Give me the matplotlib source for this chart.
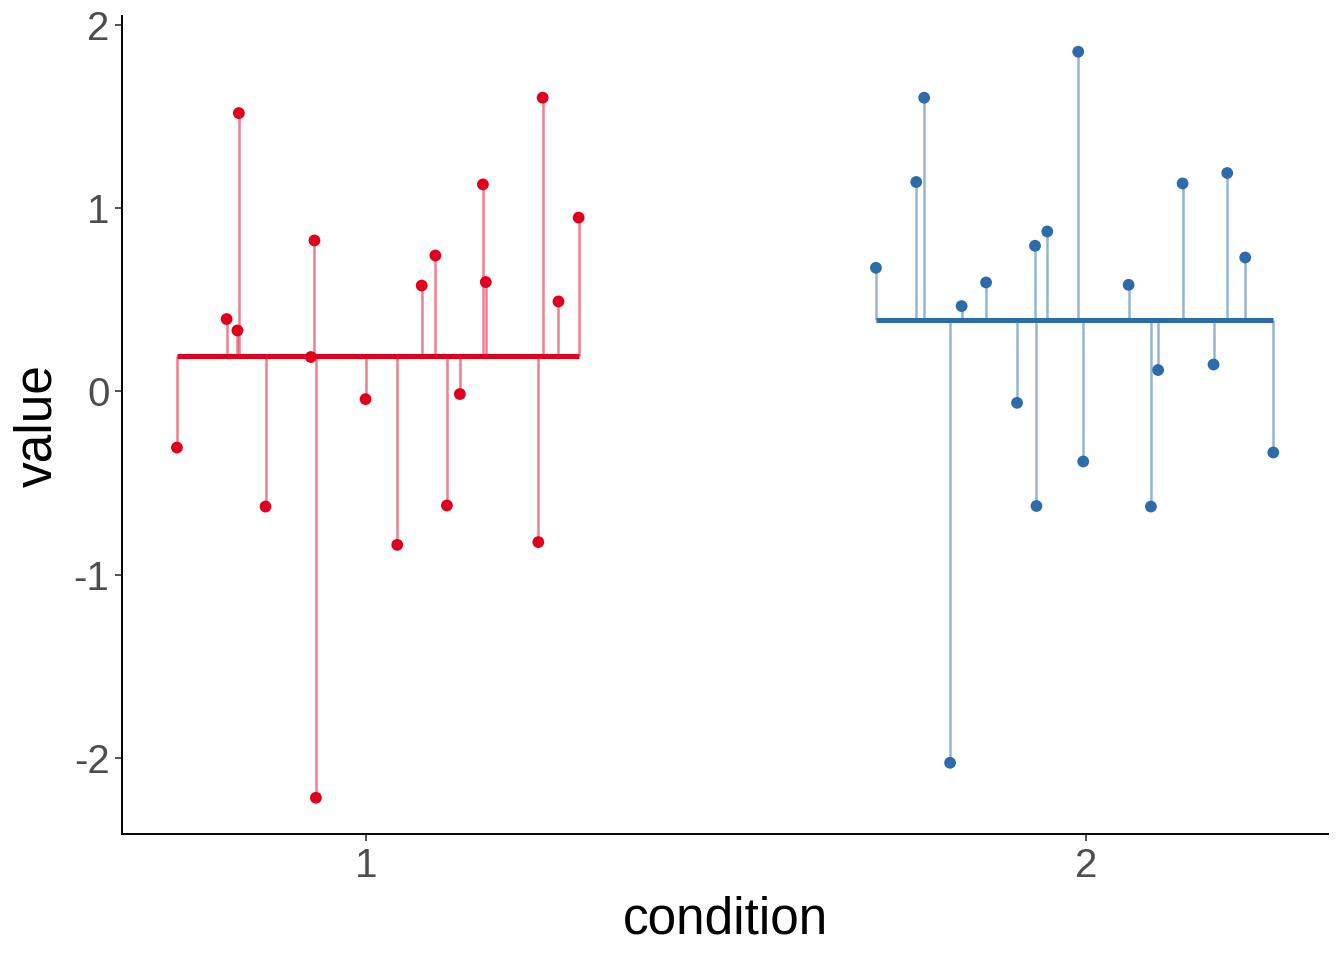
import numpy as np
import matplotlib.pyplot as plt

plt.rcParams["font.family"] = ["Liberation Sans", "DejaVu Sans"]

# jittered positions and values
cond1_x = [0.737, 0.806, 0.821, 0.823, 0.860, 0.923, 0.928, 0.930, 0.999, 1.043,
           1.077, 1.096, 1.112, 1.130, 1.162, 1.166, 1.239, 1.245, 1.267, 1.295]
cond1_y = [-0.307, 0.394, 0.332, 1.518, -0.629, 0.187, 0.823, -2.218, -0.043, -0.838,
           0.577, 0.741, -0.623, -0.015, 1.129, 0.596, -0.823, 1.602, 0.490, 0.948]

cond2_x = [1.708, 1.764, 1.775, 1.811, 1.827, 1.861, 1.904, 1.929, 1.931, 1.946,
           1.989, 1.996, 2.059, 2.090, 2.100, 2.134, 2.177, 2.196, 2.221, 2.260]
cond2_y = [0.674, 1.142, 1.602, -2.027, 0.465, 0.594, -0.063, 0.794, -0.626, 0.872,
           1.853, -0.383, 0.581, -0.629, 0.116, 1.134, 0.146, 1.191, 0.730, -0.334]

groups = [
    (cond1_x, cond1_y, "#E0001B"),
    (cond2_x, cond2_y, "#2C6BAC"),
]

fig = plt.figure(figsize=(13.44, 9.6), dpi=100)
ax = fig.add_axes([0.0908, 0.131, 0.8973, 0.852])

for xs, ys, col in groups:
    xs = np.array(xs)
    ys = np.array(ys)
    m = ys.mean()
    ax.vlines(xs, m, ys, color=col, alpha=0.5, linewidth=1.8, zorder=1)
    ax.hlines(m, xs.min(), xs.max(), color=col, linewidth=3.6, zorder=2)
    ax.scatter(xs, ys, s=72, color=col, edgecolors="none", zorder=3)

ax.set_xlim(0.6607, 2.336)
ax.set_ylim(-2.417, 2.046)
ax.set_xticks([1, 2])
ax.set_yticks([-2, -1, 0, 1, 2])
ax.set_xticklabels(["1", "2"])
ax.set_yticklabels(["-2", "-1", "0", "1", "2"])

for side in ["top", "right"]:
    ax.spines[side].set_visible(False)
for side in ["left", "bottom"]:
    ax.spines[side].set_linewidth(1.4)
    ax.spines[side].set_color("black")

ax.tick_params(axis="both", length=5, width=1.2, color="#333333",
               labelsize=29, labelcolor="#4D4D4D", pad=4)
ax.set_xlabel("condition", fontsize=37, labelpad=8)
ax.set_ylabel("value", fontsize=37, labelpad=8)

fig.savefig("out.png", dpi=100)
